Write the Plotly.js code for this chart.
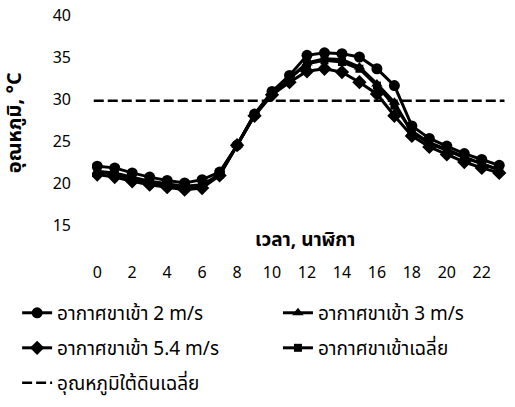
<!DOCTYPE html>
<html>
<head>
<meta charset="utf-8">
<script src="https://cdn.plot.ly/plotly-3.0.1.min.js"></script>
<style>html,body{margin:0;padding:0;background:#fff}#chart{width:515px;height:407px}</style>
</head>
<body>
<div id="chart"></div>
<script>
const hours = [0,1,2,3,4,5,6,7,8,9,10,11,12,13,14,15,16,17,18,19,20,21,22,23];
const inlet2 = [22.0,21.8,21.2,20.7,20.3,20.0,20.4,21.3,24.5,28.2,30.9,32.8,35.2,35.5,35.4,35.0,33.6,31.6,26.8,25.3,24.4,23.5,22.8,22.1];
const inlet3 = [21.3,21.0,20.5,20.0,19.7,19.4,19.6,21.0,24.5,28.2,30.7,32.4,34.3,34.8,34.7,33.8,31.8,29.6,26.0,24.7,23.9,23.0,22.3,21.5];
const inlet54 = [21.0,20.7,20.2,19.8,19.5,19.2,19.4,20.9,24.5,28.0,30.5,32.0,33.3,33.6,33.2,32.0,30.6,28.0,25.6,24.3,23.4,22.5,21.8,21.2];
const inletAvg = [21.4,21.2,20.7,20.2,19.9,19.6,19.8,21.0,24.5,28.1,30.7,32.4,34.2,34.6,34.4,33.6,31.6,29.2,26.2,24.8,24.0,23.1,22.3,21.6];
const groundHours = [-0.2,23.3];
const groundAvg = [29.8,29.8];
const xTicks = [0,2,4,6,8,10,12,14,16,18,20,22];
const yTicks = [15,20,25,30,35,40];
const names = ['อากาศขาเข้า 2 m/s','อากาศขาเข้า 3 m/s','อากาศขาเข้า 5.4 m/s','อากาศขาเข้าเฉลี่ย','อุณหภูมิใต้ดินเฉลี่ย'];
const xTitle = 'เวลา, นาฬิกา';
const yTitle = 'อุณหภูมิ, °C';

const FONT = "Tahoma, 'Noto Sans Thai', 'Noto Sans', sans-serif";
function series(y, name, symbol, size, legend){
  return {x: hours, y: y, name: name, type:'scatter', mode:'lines+markers',
    line:{color:'#000', width:3}, marker:{symbol:symbol, size:size, color:'#000'}, legend: legend};
}
const data = [
  series(inlet2, names[0], 'circle', 11, 'legend'),
  series(inlet3, names[1], 'triangle-up', 10, 'legend2'),
  series(inlet54, names[2], 'diamond', 11, 'legend3'),
  series(inletAvg, names[3], 'square', 8, 'legend4'),
  {x: groundHours, y: groundAvg, name: names[4], type:'scatter', mode:'lines',
   line:{color:'#000', width:2.5, dash:'10px,4px'}, legend:'legend5'}
];
function leg(x, y){
  return {orientation:'h', xanchor:'left', yanchor:'middle', x:x, y:y,
    font:{family:FONT, size:19, color:'#000'}, bgcolor:'rgba(0,0,0,0)', itemwidth:30};
}
const c1 = -0.18, c2 = 0.447, r1 = -0.412, r2 = -0.578, r3 = -0.744;
const layout = {
  width:515, height:407,
  margin:{l:92, r:6.5, t:15, b:181},
  paper_bgcolor:'#fff', plot_bgcolor:'#fff',
  font:{family:FONT, color:'#000'},
  showlegend:true,
  xaxis:{range:[-0.3,23.5], tickvals:xTicks, ticktext:xTicks.map(String), showgrid:false, zeroline:false,
    showline:false, ticks:'', ticklabelstandoff:36, tickfont:{family:FONT, size:16, color:'#000'}},
  yaxis:{range:[15,40], tickvals:yTicks, ticktext:yTicks.map(String), showgrid:false, zeroline:false,
    showline:false, ticks:'', ticklabelstandoff:20, tickfont:{family:FONT, size:16, color:'#000'}},
  legend: leg(c1, r1),
  legend2: leg(c2, r1),
  legend3: leg(c1, r2),
  legend4: leg(c2, r2),
  legend5: leg(c1, r3),
  annotations:[
    {text:'<b>'+xTitle+'</b>', xref:'x', yref:'paper', x:11.9, y:-0.075, showarrow:false,
     font:{family:FONT, size:19, color:'#000'}, xanchor:'center', yanchor:'middle'},
    {text:'<b>'+yTitle+'</b>', xref:'paper', yref:'paper', x:-0.185, y:0.485, textangle:-90, showarrow:false,
     font:{family:FONT, size:20, color:'#000'}, xanchor:'center', yanchor:'middle'}
  ]
};
Plotly.newPlot('chart', data, layout, {staticPlot:true, displayModeBar:false});
</script>
</body>
</html>
